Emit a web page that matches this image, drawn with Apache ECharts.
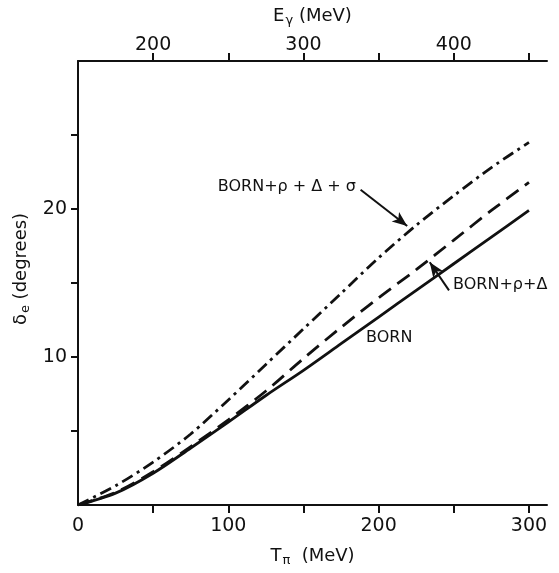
<!DOCTYPE html>
<html>
<head>
<meta charset="utf-8">
<script src="https://cdn.jsdelivr.net/npm/echarts@6/dist/echarts.min.js"></script>
<style>
  html, body { margin: 0; padding: 0; background: #fff; }
  #chart { width: 559px; height: 573px; }
</style>
</head>
<body>
<div id="chart"></div>
<script>
// valores
const tPi = [0, 25, 50, 75, 100, 125, 150, 175, 200, 225, 250, 275, 300];
const born = [0, 0.8, 2.15, 3.85, 5.6, 7.4, 9.1, 10.9, 12.7, 14.5, 16.3, 18.1, 19.9];
const bornRhoDelta = [0, 0.85, 2.25, 3.95, 5.75, 7.7, 9.9, 12.0, 14.0, 15.9, 17.9, 19.9, 21.8];
const bornRhoDeltaSigma = [0, 1.3, 2.9, 4.8, 7.1, 9.5, 11.9, 14.3, 16.7, 18.9, 20.9, 22.8, 24.5];

const tTicks = [50, 100, 150, 200, 250, 300];
const tLabels = [0, 100, 200, 300];
const eTicks = [200, 250, 300, 350, 400, 450];
const eLabels = [200, 300, 400];
const dTicks = [5, 10, 15, 20, 25];
const dLabels = [10, 20];

const ink = '#111';
const font = 'DejaVu Sans';

const pares = ys => tPi.map((t, i) => [t, ys[i]]);

// etiqueta sin simbolo, anclada en coordenadas de datos
function etiqueta(coord, text, align) {
  return {
    coord: coord, symbol: 'circle', symbolSize: 0,
    label: { show: true, position: 'inside', align: align || 'left', verticalAlign: 'middle',
      formatter: text, color: ink, fontFamily: font, fontSize: 16 }
  };
}
function flecha(from, to) {
  return [{ coord: from, symbol: 'none' }, { coord: to, symbol: 'arrow', symbolSize: [9, 15] }];
}
const richName = {
  t: { fontFamily: font, fontSize: 18, color: ink },
  s: { fontFamily: font, fontSize: 13, color: ink, padding: [9, 0, 0, 1] }
};

const chart = echarts.init(document.getElementById('chart'));
const option = {
  backgroundColor: '#fff',
  animation: false,
  grid: { left: 78, right: 12, top: 61, bottom: 68 },
  xAxis: [{
    type: 'value', position: 'bottom', min: 0, max: 312, interval: 50,
    name: '{t|T}{s|π}{t|  (MeV)}', nameLocation: 'middle', nameGap: 40,
    nameTextStyle: { rich: richName },
    axisLine: { show: true, lineStyle: { color: ink, width: 2 } },
    axisTick: { show: true, length: 8, customValues: tTicks, lineStyle: { color: ink, width: 2 } },
    axisLabel: { margin: 12, color: ink, fontFamily: font, fontSize: 19, customValues: tLabels },
    splitLine: { show: false }
  }, {
    type: 'value', position: 'top', min: 150, max: 462, interval: 50,
    name: '{t|E}{s|γ}{t| (MeV)}', nameLocation: 'middle', nameGap: 34,
    nameTextStyle: { rich: richName },
    axisLine: { show: true, lineStyle: { color: ink, width: 2 } },
    axisTick: { show: true, length: 8, customValues: eTicks, lineStyle: { color: ink, width: 2 } },
    axisLabel: { margin: 6, color: ink, fontFamily: font, fontSize: 19, customValues: eLabels },
    splitLine: { show: false }
  }],
  yAxis: {
    type: 'value', min: 0, max: 30, interval: 5,
    name: '{t|δ}{s|e}{t| (degrees)}', nameLocation: 'middle', nameGap: 44,
    nameTextStyle: { padding: [0, 0, 0, 28], rich: richName },
    axisLine: { show: true, lineStyle: { color: ink, width: 2 } },
    axisTick: { show: true, length: 7, customValues: dTicks, lineStyle: { color: ink, width: 2 } },
    axisLabel: { margin: 11, color: ink, fontFamily: font, fontSize: 19, customValues: dLabels },
    splitLine: { show: false }
  },
  series: [{
    name: 'BORN', type: 'line', smooth: 0.3, showSymbol: false,
    data: pares(born),
    lineStyle: { color: ink, width: 2.8, type: 'solid' },
    markPoint: { data: [etiqueta([207, 11.3], 'BORN', 'center')] }
  }, {
    name: 'BORN+ρ+Δ', type: 'line', smooth: 0.3, showSymbol: false,
    data: pares(bornRhoDelta),
    lineStyle: { color: ink, width: 2.8, type: [15, 8] },
    markPoint: { data: [etiqueta([249.5, 14.9], 'BORN+ρ+Δ')] },
    markLine: { silent: true, lineStyle: { color: ink, width: 2, type: 'solid' }, label: { show: false },
      data: [flecha([246.8, 14.5], [234, 16.4])] }
  }, {
    name: 'BORN+ρ+Δ+σ', type: 'line', smooth: 0.3, showSymbol: false,
    data: pares(bornRhoDeltaSigma),
    lineStyle: { color: ink, width: 2.8, type: [12, 5, 3, 5] },
    markPoint: { data: [etiqueta([93, 21.5], 'BORN+ρ + Δ + σ')] },
    markLine: { silent: true, lineStyle: { color: ink, width: 2, type: 'solid' }, label: { show: false },
      data: [flecha([188, 21.3], [219, 18.85])] }
  }]
};
chart.setOption(option);
window.addEventListener('resize', () => chart.resize());
</script>
</body>
</html>
